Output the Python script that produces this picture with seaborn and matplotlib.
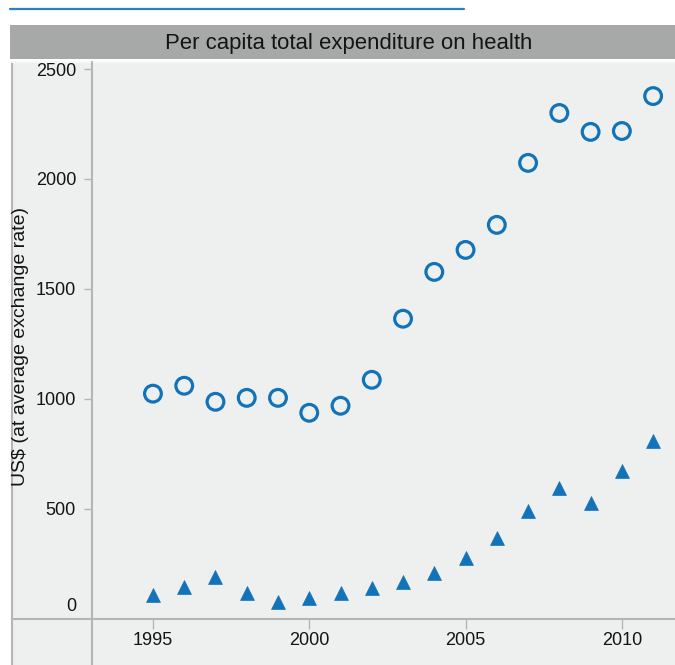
import seaborn as sns
import matplotlib.pyplot as plt
import matplotlib.transforms as mtransforms
from matplotlib.patches import Rectangle
from matplotlib.lines import Line2D
import pandas as pd

years = list(range(1995, 2012))
total_exp = [1023, 1059, 986, 1004, 1004, 936, 968, 1086, 1364, 1577,
             1677, 1791, 2073, 2300, 2214, 2218, 2377]
govt_exp = [109, 145, 191, 118, 73, 95, 118, 141, 168, 209,
            277, 364, 491, 595, 527, 673, 809]
xticks = [1995, 2000, 2005, 2010]
yticks = [0, 500, 1000, 1500, 2000, 2500]
title = "Per capita total expenditure on health"
ylabel = "US$ (at average exchange rate)"

df = pd.DataFrame({"year": years, "total": total_exp, "govt": govt_exp})

sns.set_style("white")
plt.rcParams["font.family"] = ["Liberation Sans", "DejaVu Sans"]

W, H = 675, 665
fig = plt.figure(figsize=(W / 100, H / 100), dpi=100, facecolor="white")

def fx(px):
    return px / W

def fy(py):
    return 1 - py / H

panel = "#eef0f0"
line_c = "#b4b6b6"
blue = "#1273b8"
txt = "#141414"

# top blue rule and title bar
fig.add_artist(Line2D([fx(10), fx(464)], [fy(9), fy(9)], color="#2d7fc4", lw=1.6))
fig.add_artist(Rectangle((fx(10), fy(59)), fx(665), fy(25) - fy(59),
                         facecolor="#a7a8a8", edgecolor="none"))
fig.text(fx(349), fy(43), title, ha="center", va="center", fontsize=15.9, color=txt)

# panel background and frame lines
fig.add_artist(Rectangle((fx(12), 0), fx(663), fy(62), facecolor=panel,
                         edgecolor="none", zorder=-2))
fig.add_artist(Line2D([fx(12), fx(12)], [0, fy(62)], color=line_c, lw=1.5, zorder=-1))
fig.add_artist(Line2D([fx(12), 1], [fy(62), fy(62)], color="#f8f8f8", lw=1.5, zorder=-1))
fig.add_artist(Line2D([fx(12), 1], [fy(618.5), fy(618.5)], color=line_c, lw=1.5, zorder=-1))
fig.add_artist(Line2D([fx(92), fx(92)], [0, fy(62)], color=line_c, lw=1.5, zorder=-1))

ax = fig.add_axes([fx(92), fy(618.5), 1 - fx(92), fy(62) - fy(618.5)])
ax.set_zorder(2)
ax.patch.set_alpha(0)

sns.scatterplot(data=df, x="year", y="total", marker="o", s=145,
                facecolors="none", edgecolor=blue, linewidth=2.3, ax=ax)
sns.scatterplot(data=df, x="year", y="govt", marker="^", s=100,
                color=blue, edgecolor=blue, linewidth=0.5, ax=ax)

ax.set_xlim(1993.05, 2011.7)
ax.set_ylim(0, 2532)
ax.set_xticks(xticks)
ax.set_yticks(yticks)
ax.set_xlabel("")
ax.set_ylabel("")
for s in ax.spines.values():
    s.set_visible(False)

ax.tick_params(axis="x", direction="out", length=7, width=1, color=line_c,
               pad=3, labelsize=13, labelcolor=txt, bottom=True)
ax.tick_params(axis="y", direction="out", length=5.5, width=1, color=line_c,
               pad=6, labelsize=13, labelcolor=txt, left=True)
for lab in ax.get_yticklabels():
    if lab.get_text() == "0":
        lab.set_transform(lab.get_transform() +
                          mtransforms.ScaledTranslation(0, 10 / 72, fig.dpi_scale_trans))
ax.get_yticklines()[0].set_visible(False)

fig.text(fx(21), fy(346), ylabel, rotation=90, ha="center", va="center",
         fontsize=14, color=txt)

fig.savefig("out.png", dpi=100, facecolor="white")
